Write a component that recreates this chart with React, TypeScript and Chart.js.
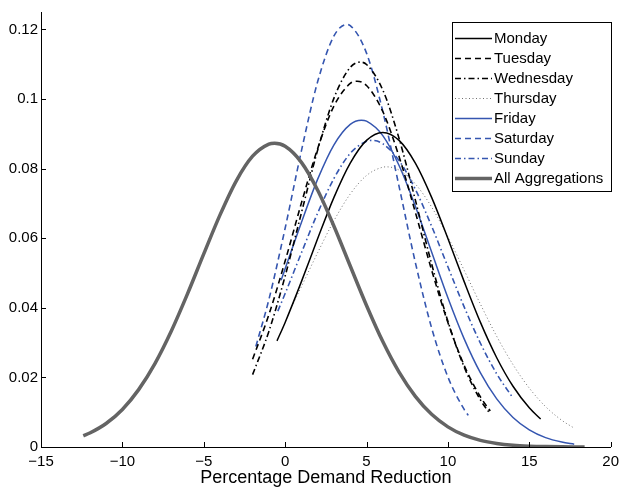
import React, { useEffect, useRef } from "react";
import { Chart, registerables } from "chart.js";

Chart.register(...registerables);

const seriesNames = [
  "Monday",
  "Tuesday",
  "Wednesday",
  "Thursday",
  "Friday",
  "Saturday",
  "Sunday",
  "All Aggregations",
];

const mondayX = [-0.5, 0, 1, 2, 3, 4, 5, 6, 7, 8, 9, 10, 11, 12, 13, 14, 15, 15.7];
const mondayY = [0.0305, 0.0358, 0.04752, 0.0599, 0.07173, 0.08157, 0.0881, 0.0904, 0.0881, 0.08157, 0.07173, 0.0599, 0.04752, 0.0358, 0.02565, 0.01745, 0.01127, 0.00803];

const tuesdayX = [-2, -1, 0, 1, 2, 3, 4, 4.42, 5, 6, 7, 8, 9, 10, 11, 12, 12.6];
const tuesdayY = [0.02524, 0.03802, 0.05343, 0.0701, 0.0858, 0.098, 0.10446, 0.1051, 0.10388, 0.0964, 0.08345, 0.06744, 0.05085, 0.03577, 0.02347, 0.01437, 0.01036];

const wednesdayX = [-2, -1, 0, 1, 2, 3, 4, 4.6, 5, 6, 7, 8, 9, 10, 11, 12, 12.6];
const wednesdayY = [0.0208, 0.03321, 0.04912, 0.06729, 0.08535, 0.10026, 0.10909, 0.1106, 0.10992, 0.10258, 0.08867, 0.07097, 0.05261, 0.03612, 0.02297, 0.01353, 0.0095];

const thursdayX = [0.5, 1, 2, 3, 4, 5, 6, 6.24, 7, 8, 9, 10, 11, 12, 13, 14, 15, 16, 17, 17.7];
const thursdayY = [0.04121, 0.04609, 0.05586, 0.06504, 0.0727, 0.07802, 0.0804, 0.0805, 0.07957, 0.07559, 0.06896, 0.0604, 0.05078, 0.04103, 0.0318, 0.02368, 0.01693, 0.01161, 0.00766, 0.00559];

const fridayX = [-0.25, 0, 1, 2, 3, 4, 4.68, 5, 6, 7, 8, 9, 10, 11, 12, 13, 14, 15, 16, 17, 17.76];
const fridayY = [0.04792, 0.05122, 0.06454, 0.07697, 0.08685, 0.09271, 0.0939, 0.09364, 0.08948, 0.0809, 0.06921, 0.05601, 0.04289, 0.03108, 0.0213, 0.01382, 0.00848, 0.00492, 0.0027, 0.00141, 0.00082];

const saturdayX = [-1.8, -1, 0, 1, 2, 3, 3.77, 4, 5, 6, 7, 8, 9, 10, 11, 11.25];
const saturdayY = [0.02887, 0.04233, 0.06287, 0.0851, 0.10501, 0.11811, 0.1214, 0.1211, 0.11318, 0.09643, 0.07489, 0.05303, 0.03421, 0.02012, 0.01079, 0.0091];

const sundayX = [-0.45, 0, 1, 2, 3, 4, 5, 5.33, 6, 7, 8, 9, 10, 11, 12, 13, 13.95];
const sundayY = [0.03904, 0.0441, 0.05579, 0.06725, 0.07718, 0.08438, 0.08787, 0.0881, 0.08714, 0.08231, 0.07405, 0.06345, 0.05178, 0.04025, 0.02981, 0.02101, 0.0144];

const allX = [-12.4, -12, -11, -10, -9, -8, -7, -6, -5, -4, -3, -2, -1, -0.65, 0, 1, 2, 3, 4, 5, 6, 7, 8, 9, 10, 11, 12, 13, 14, 15, 16, 17, 18, 18.4];
const allY = [0.00322, 0.00401, 0.00675, 0.0108, 0.01649, 0.02397, 0.03326, 0.044, 0.05548, 0.0667, 0.0765, 0.08356, 0.08704, 0.0873, 0.08643, 0.0818, 0.07378, 0.06343, 0.052, 0.04067, 0.03029, 0.02151, 0.01455, 0.00939, 0.00579, 0.00339, 0.00189, 0.00101, 0.00051, 0.00025, 0.000115, 0.00005, 0.00002, 0.00001];

const xTicks = [-15, -10, -5, 0, 5, 10, 15, 20];
const xTickLabels = ["\u221215", "\u221210", "\u22125", "0", "5", "10", "15", "20"];
const yTicks = [0, 0.02, 0.04, 0.06, 0.08, 0.1, 0.12];
const yTickLabels = ["0", "0.02", "0.04", "0.06", "0.08", "0.1", "0.12"];

const FONT = "'Liberation Sans', Arial, Helvetica, sans-serif";
const BLUE = "#3556b0";

const seriesX = [mondayX, tuesdayX, wednesdayX, thursdayX, fridayX, saturdayX, sundayX, allX];
const seriesY = [mondayY, tuesdayY, wednesdayY, thursdayY, fridayY, saturdayY, sundayY, allY];
const styles = [
  { color: "#000000", width: 1.5, dash: [] as number[] },
  { color: "#000000", width: 1.6, dash: [6, 4] },
  { color: "#000000", width: 1.6, dash: [6, 3, 1.5, 3] },
  { color: "#707070", width: 1, dash: [1, 2.5] },
  { color: BLUE, width: 1.5, dash: [] as number[] },
  { color: BLUE, width: 1.6, dash: [6, 4] },
  { color: BLUE, width: 1.6, dash: [6, 3, 1.5, 3] },
  { color: "#646464", width: 3.5, dash: [] as number[] },
];

const inwardTicks = {
  id: "inwardTicks",
  afterDraw(chart: any) {
    const { ctx, chartArea, scales } = chart;
    ctx.save();
    ctx.strokeStyle = "#000";
    ctx.lineWidth = 1;
    ctx.setLineDash([]);
    scales.x.ticks.forEach((t: any) => {
      const px = Math.round(scales.x.getPixelForValue(t.value)) + 0.5;
      ctx.beginPath();
      ctx.moveTo(px, chartArea.bottom);
      ctx.lineTo(px, chartArea.bottom - 5);
      ctx.stroke();
    });
    scales.y.ticks.forEach((t: any) => {
      const py = Math.round(scales.y.getPixelForValue(t.value)) + 0.5;
      ctx.beginPath();
      ctx.moveTo(chartArea.left, py);
      ctx.lineTo(chartArea.left + 5, py);
      ctx.stroke();
    });
    ctx.restore();
  },
};

const boxLegend = {
  id: "boxLegend",
  afterDraw(chart: any) {
    const { ctx } = chart;
    const bx = 452.5, by = 22.5, bw = 159, bh = 169;
    ctx.save();
    ctx.fillStyle = "#ffffff";
    ctx.fillRect(bx, by, bw, bh);
    ctx.strokeStyle = "#000";
    ctx.lineWidth = 1;
    ctx.setLineDash([]);
    ctx.strokeRect(bx, by, bw, bh);
    ctx.font = `15px ${FONT}`;
    ctx.textBaseline = "middle";
    ctx.textAlign = "left";
    chart.data.datasets.forEach((ds: any, i: number) => {
      const y = 38.5 + i * 20;
      ctx.strokeStyle = ds.borderColor;
      ctx.lineWidth = ds.borderWidth;
      ctx.setLineDash(ds.borderDash || []);
      ctx.beginPath();
      ctx.moveTo(455, y);
      ctx.lineTo(492, y);
      ctx.stroke();
      ctx.setLineDash([]);
      ctx.fillStyle = "#000";
      ctx.fillText(ds.label, 494, y + 0.5);
    });
    ctx.restore();
  },
};

export default function App() {
  const ref = useRef<HTMLCanvasElement>(null);
  useEffect(() => {
    document.body.style.margin = "0";
    const canvas = ref.current;
    if (!canvas) return;
    const datasets = seriesNames.map((name, i) => ({
      label: name,
      data: seriesX[i].map((x, j) => ({ x, y: seriesY[i][j] })),
      borderColor: styles[i].color,
      borderWidth: styles[i].width,
      borderDash: styles[i].dash,
      pointRadius: 0,
      fill: false,
      cubicInterpolationMode: "monotone" as const,
      order: i === 7 ? 0 : 1,
    }));
    const chart = new Chart(canvas, {
      type: "line",
      data: { datasets },
      plugins: [inwardTicks, boxLegend],
      options: {
        responsive: false,
        animation: false,
        devicePixelRatio: 1,
        layout: { padding: { top: 12, right: 9, left: 0, bottom: 0 } },
        plugins: { legend: { display: false }, tooltip: { enabled: false } },
        scales: {
          x: {
            type: "linear",
            min: -15,
            max: 20,
            afterBuildTicks: (s: any) => {
              s.ticks = xTicks.map((v) => ({ value: v }));
            },
            afterFit: (s: any) => {
              s.height = 40;
            },
            grid: { display: false, drawTicks: false },
            border: { display: true, color: "#000", width: 1 },
            ticks: {
              autoSkip: false,
              maxRotation: 0,
              padding: 6,
              color: "#000",
              font: { family: FONT, size: 15 },
              callback: (v: any) => xTickLabels[xTicks.indexOf(Number(v))],
            },
            title: {
              display: true,
              text: "Percentage Demand Reduction",
              color: "#000",
              font: { family: FONT, size: 18, lineHeight: 1 },
              padding: { top: 0, bottom: 0 },
            },
          },
          y: {
            type: "linear",
            min: 0,
            max: 0.125,
            afterBuildTicks: (s: any) => {
              s.ticks = yTicks.map((v) => ({ value: v }));
            },
            afterFit: (s: any) => {
              s.width = 41;
            },
            grid: { display: false, drawTicks: false },
            border: { display: true, color: "#000", width: 1 },
            ticks: {
              autoSkip: false,
              padding: 3,
              color: "#000",
              font: { family: FONT, size: 15 },
              callback: (v: any) => yTickLabels[yTicks.indexOf(Number(v))],
            },
          },
        },
      },
    });
    return () => chart.destroy();
  }, []);
  return (
    <div style={{ width: 625, height: 487 }}>
      <canvas ref={ref} width={625} height={487} style={{ display: "block" }} />
    </div>
  );
}
